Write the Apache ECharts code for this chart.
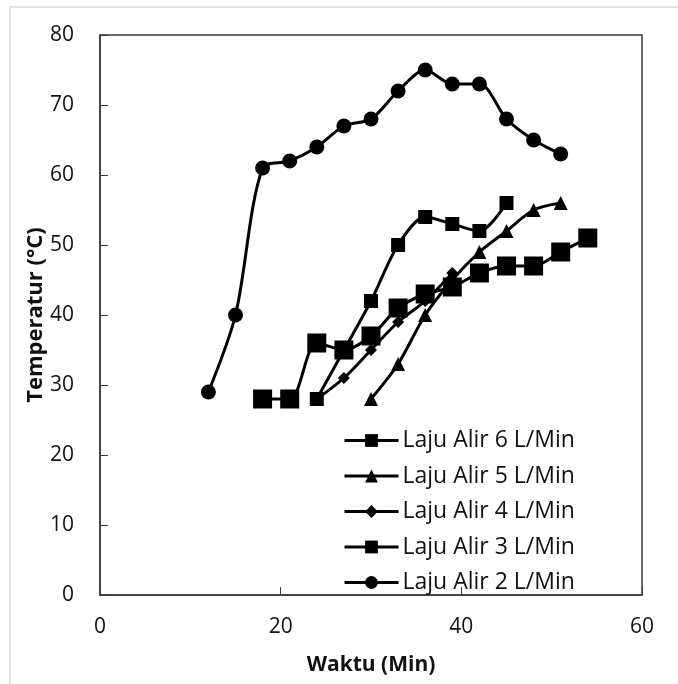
<!DOCTYPE html>
<html>
<head>
<meta charset="utf-8">
<script src="https://cdn.jsdelivr.net/npm/echarts@6/dist/echarts.min.js"></script>
<style>
  html, body { margin: 0; padding: 0; background: #fff; }
  #chart { width: 678px; height: 684px; }
</style>
</head>
<body>
<div id="chart"></div>
<script>
// Time (min) and temperature (°C) for each flow rate
const time6 = [18, 21, 24, 27, 30, 33, 36, 39, 42, 45, 48, 51, 54];
const temp6 = [28, 28, 36, 35, 37, 41, 43, 44, 46, 47, 47, 49, 51];

const time5 = [30, 33, 36, 39, 42, 45, 48, 51];
const temp5 = [28, 33, 40, 45, 49, 52, 55, 56];

const time4 = [24, 27, 30, 33, 36, 39];
const temp4 = [28, 31, 35, 39, 42, 46];

const time3 = [24, 27, 30, 33, 36, 39, 42, 45];
const temp3 = [28, 35, 42, 50, 54, 53, 52, 56];

const time2 = [12, 15, 18, 21, 24, 27, 30, 33, 36, 39, 42, 45, 48, 51];
const temp2 = [29, 40, 61, 62, 64, 67, 68, 72, 75, 73, 73, 68, 65, 63];

const seriesNames = ['Laju Alir 6 L/Min', 'Laju Alir 5 L/Min', 'Laju Alir 4 L/Min', 'Laju Alir 3 L/Min', 'Laju Alir 2 L/Min'];
const xTicks = { min: 0, max: 60, interval: 20 };
const yTicks = { min: 0, max: 80, interval: 10 };

const FONT = '"Open Sans", "Noto Sans", sans-serif';
const INK = '#000';

function pairs(xs, ys) { return xs.map((x, i) => [x, ys[i]]); }

function lineSeries(name, xs, ys, symbol, size) {
  return {
    name: name,
    type: 'line',
    data: pairs(xs, ys),
    smooth: 0.3,
    symbol: symbol,
    symbolSize: size,
    showAllSymbol: true,
    lineStyle: { color: INK, width: 3 },
    itemStyle: { color: INK, borderWidth: 0 },
    emphasis: { disabled: true },
    animation: false
  };
}

const chart = echarts.init(document.getElementById('chart'), null, { renderer: 'canvas' });

chart.setOption({
  backgroundColor: '#fff',
  animation: false,
  graphic: [{
    type: 'rect',
    shape: { x: 10, y: 7, width: 720, height: 720 },
    style: { fill: 'none', stroke: '#d9d9d9', lineWidth: 1.5 },
    silent: true
  }],
  grid: {
    left: 100, top: 35, right: 36, bottom: 89,
    show: true, borderColor: '#3a3a3a', borderWidth: 1.5, backgroundColor: 'transparent'
  },
  legend: {
    orient: 'vertical',
    left: 343,
    top: 429,
    padding: 0,
    itemWidth: 54,
    itemHeight: 16,
    itemGap: 12.5,
    data: seriesNames,
    lineStyle: { width: 3, color: INK },
    textStyle: { fontFamily: FONT, fontSize: 23, color: '#111', padding: [0, 0, 0, -1] },
    selectedMode: false
  },
  xAxis: {
    type: 'value',
    min: xTicks.min, max: xTicks.max, interval: xTicks.interval,
    name: 'Waktu (Min)',
    nameLocation: 'middle',
    nameGap: 60,
    nameMoveOverlap: false,
    nameTextStyle: { fontFamily: FONT, fontSize: 21, fontWeight: 'bold', color: '#111' },
    axisLine: { show: true, lineStyle: { color: '#3a3a3a', width: 1.5 } },
    axisTick: { show: true, inside: true, length: 8, lineStyle: { color: '#3a3a3a', width: 1 } },
    axisLabel: { fontFamily: FONT, fontSize: 21, color: '#111', margin: 22 },
    splitLine: { show: false }
  },
  yAxis: {
    type: 'value',
    min: yTicks.min, max: yTicks.max, interval: yTicks.interval,
    name: 'Temperatur (°C)',
    nameLocation: 'middle',
    nameGap: 53,
    nameMoveOverlap: false,
    nameTextStyle: { fontFamily: FONT, fontSize: 22, fontWeight: 'bold', color: '#111' },
    axisLine: { show: true, lineStyle: { color: '#3a3a3a', width: 1.5 } },
    axisTick: { show: true, inside: true, length: 8, lineStyle: { color: '#3a3a3a', width: 1 } },
    axisLabel: { fontFamily: FONT, fontSize: 21, color: '#111', margin: 26 },
    splitLine: { show: false }
  },
  series: [
    lineSeries(seriesNames[4], time2, temp2, 'circle', 15),
    lineSeries(seriesNames[3], time3, temp3, 'rect', 14),
    lineSeries(seriesNames[2], time4, temp4, 'diamond', 12),
    lineSeries(seriesNames[1], time5, temp5, 'triangle', 14),
    lineSeries(seriesNames[0], time6, temp6, 'rect', 19)
  ]
});
</script>
</body>
</html>
